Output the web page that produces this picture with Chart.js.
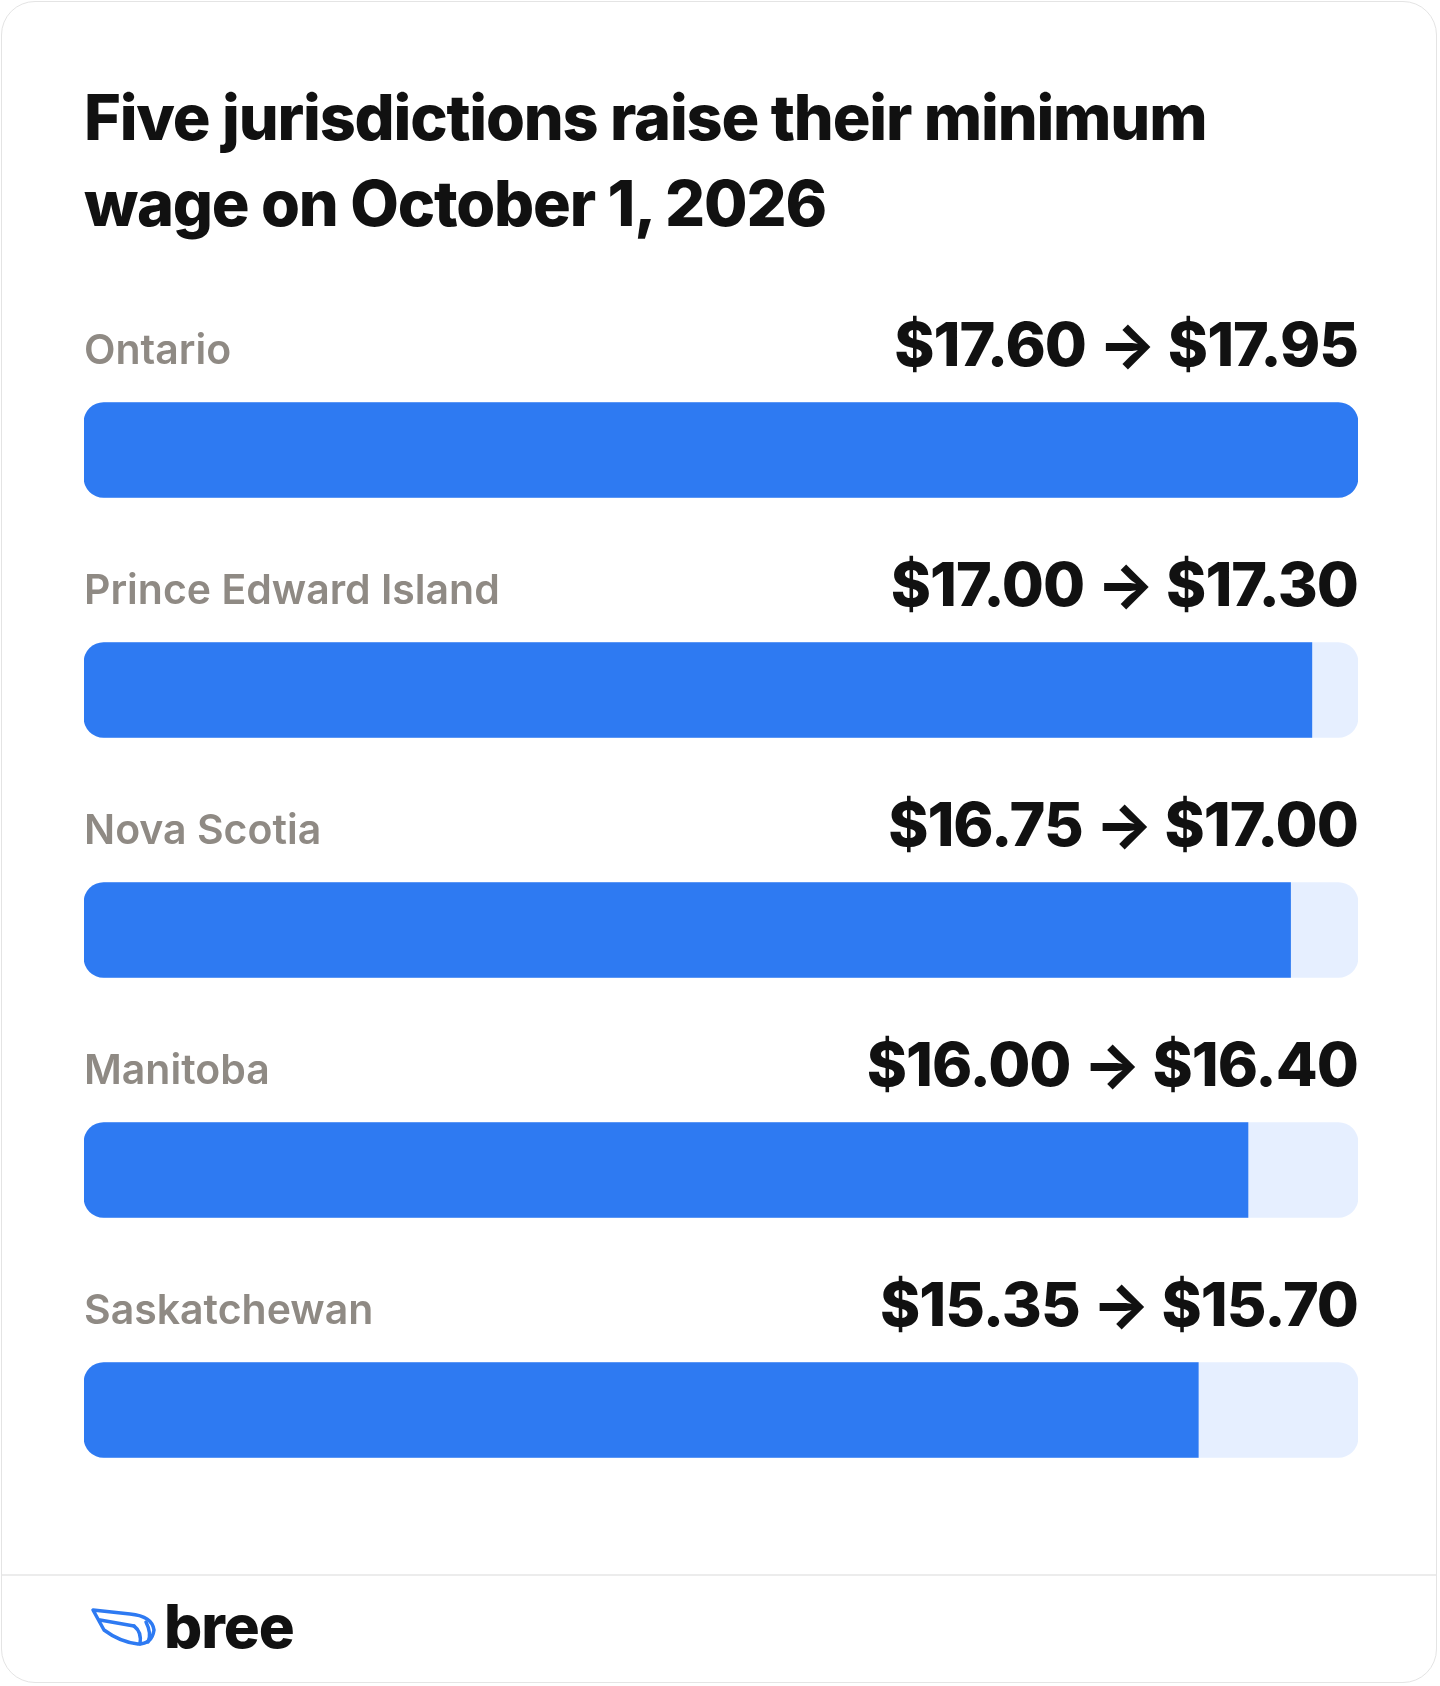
<!DOCTYPE html>
<html><head><meta charset="utf-8">
<script src="https://cdn.jsdelivr.net/npm/chart.js@4"></script>
<style>
html,body{margin:0;padding:0;background:#fff;}
#card{position:absolute;left:1px;top:1px;width:1436px;height:1682px;border:1px solid #e4e4e4;border-radius:34px;box-sizing:border-box;overflow:hidden;font-family:Inter,sans-serif;}
h1{position:absolute;left:82px;top:72px;margin:0;font-size:63px;line-height:86px;font-weight:800;color:#111;letter-spacing:-1.2px;width:1250px;}
#c{position:absolute;left:0;top:228px;}
#foot{position:absolute;left:0;top:1572px;width:100%;border-top:2px solid #ececec;height:110px;}
#logo{position:absolute;left:88px;top:14px;display:flex;align-items:center;font-size:60px;font-weight:800;color:#111;letter-spacing:-1px;}
</style></head><body>
<div id="card">
<h1>Five jurisdictions raise their minimum<br>wage on October 1, 2026</h1>
<canvas id="c" width="1440" height="1300"></canvas>
<div id="foot"><div id="logo"><svg width="72" height="44" viewBox="0 0 72 44"><g fill="none" stroke="#2e7af2" stroke-width="3.5" stroke-linecap="round" stroke-linejoin="round"><path d="M3 6 L40 10 Q62 12 64 26 Q62 40 48 40 Q30 38 14 26 Z"/><path d="M10 16 L44 22"/><path d="M44 22 Q52 28 50 40"/><path d="M56 18 Q62 30 58 38"/></g></svg><span style="margin-left:2px">bree</span></div></div>
</div>
<script>
const provinces=["Ontario","Prince Edward Island","Nova Scotia","Manitoba","Saskatchewan"];
const oldWage=[17.60,17.00,16.75,16.00,15.35];
const newWage=[17.95,17.30,17.00,16.40,15.70];
const maxWage=17.95;
const fmt=v=>"$"+v.toFixed(2);
const labels={id:"labels",afterDatasetsDraw(ch){
 const ctx=ch.ctx;const meta=ch.getDatasetMeta(1);
 meta.data.forEach((b,i)=>{
  const y=b.y-102;
  ctx.save();ctx.textBaseline="middle";
  ctx.font="600 41px Inter";ctx.fillStyle="#8f8a84";ctx.textAlign="left";
  ctx.fillText(provinces[i],82,y+4);
  ctx.font="800 61px Inter";ctx.fillStyle="#111";ctx.textAlign="right";
  if("letterSpacing" in ctx) ctx.letterSpacing="-1px";
  ctx.fillText(fmt(oldWage[i])+" → "+fmt(newWage[i]),1356,y);
  ctx.restore();
 });
}};
new Chart(document.getElementById("c"),{
 type:"bar",
 data:{labels:provinces,datasets:[
  {data:provinces.map(()=>maxWage),backgroundColor:"#e6efff",borderRadius:20,borderSkipped:false,grouped:false,barThickness:95,order:2},
  {data:newWage,backgroundColor:"#2e7af2",grouped:false,barThickness:95,borderSkipped:false,order:1,
   borderRadius:c=>newWage[c.dataIndex]>=maxWage?20:{topLeft:20,bottomLeft:20,topRight:0,bottomRight:0}}
 ]},
 options:{indexAxis:"y",responsive:false,animation:false,devicePixelRatio:1,
  layout:{padding:{left:82,right:84,top:100,bottom:0}},
  plugins:{legend:{display:false},tooltip:{enabled:false}},
  scales:{x:{display:false,min:0,max:maxWage},y:{display:false,offset:true}}},
 plugins:[labels]
});
</script>
</body></html>
